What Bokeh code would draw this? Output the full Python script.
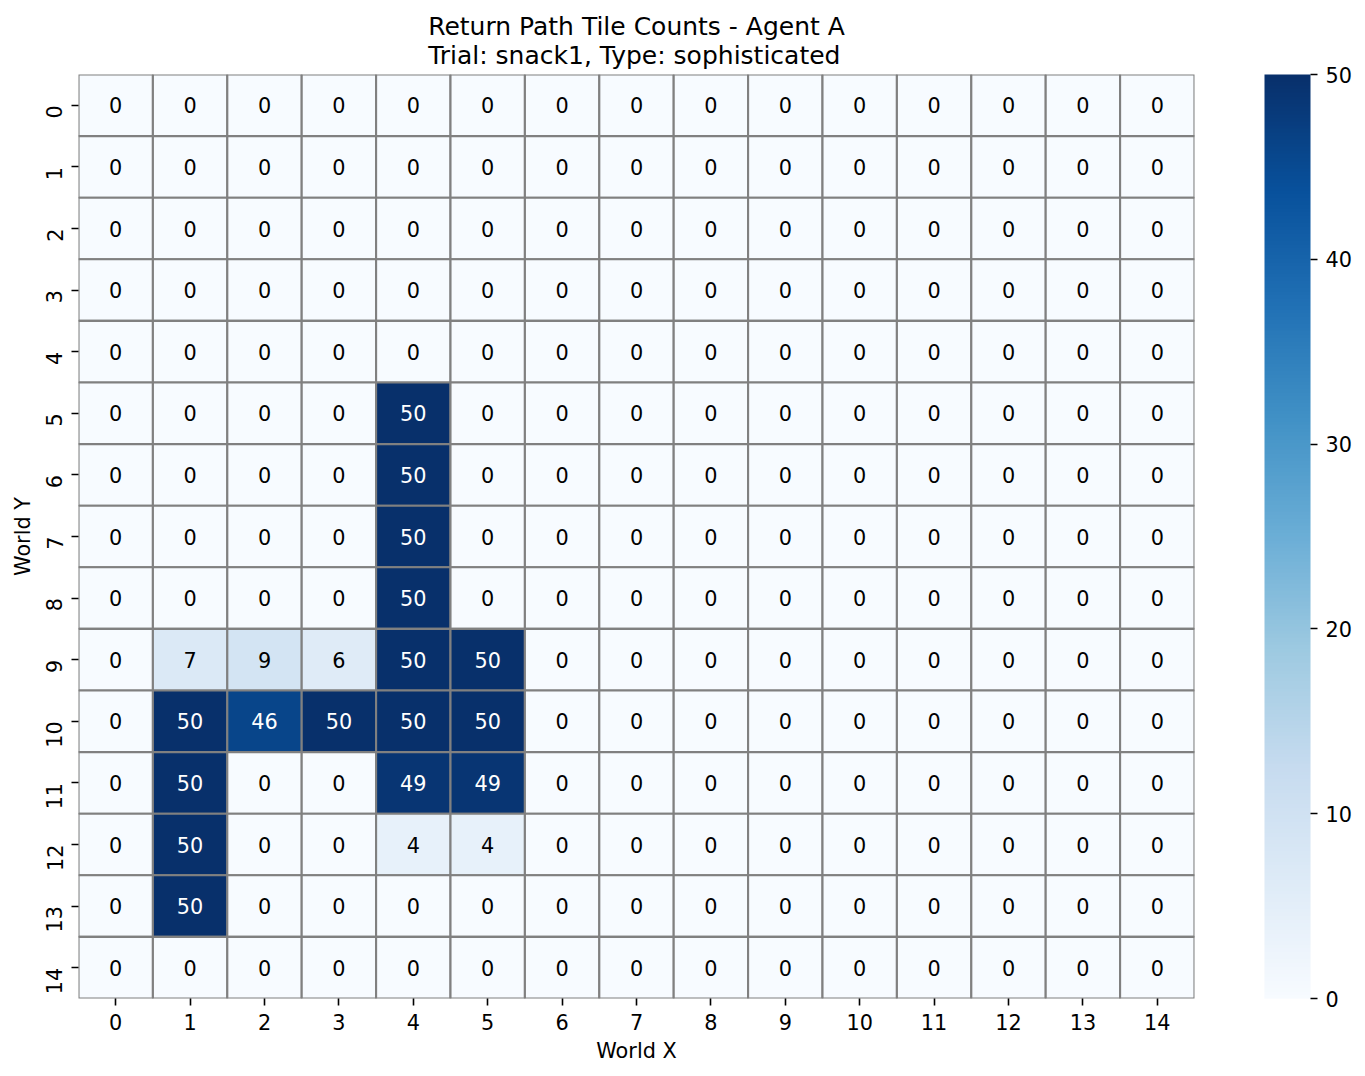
import numpy as np
from bokeh.plotting import figure
from bokeh.models import (ColumnDataSource, LinearColorMapper, ColorBar, FixedTicker)
from bokeh.palettes import Blues256
from bokeh.embed import file_html
from bokeh.resources import INLINE

# ---- data ----
x_labels = list(range(15))
y_labels = list(range(15))
counts = [
    [0]*15,
    [0]*15,
    [0]*15,
    [0]*15,
    [0]*15,
    [0, 0, 0, 0, 50, 0, 0, 0, 0, 0, 0, 0, 0, 0, 0],
    [0, 0, 0, 0, 50, 0, 0, 0, 0, 0, 0, 0, 0, 0, 0],
    [0, 0, 0, 0, 50, 0, 0, 0, 0, 0, 0, 0, 0, 0, 0],
    [0, 0, 0, 0, 50, 0, 0, 0, 0, 0, 0, 0, 0, 0, 0],
    [0, 7, 9, 6, 50, 50, 0, 0, 0, 0, 0, 0, 0, 0, 0],
    [0, 50, 46, 50, 50, 50, 0, 0, 0, 0, 0, 0, 0, 0, 0],
    [0, 50, 0, 0, 49, 49, 0, 0, 0, 0, 0, 0, 0, 0, 0],
    [0, 50, 0, 0, 4, 4, 0, 0, 0, 0, 0, 0, 0, 0, 0],
    [0, 50, 0, 0, 0, 0, 0, 0, 0, 0, 0, 0, 0, 0, 0],
    [0]*15,
]
vmin, vmax = 0, 50
colorbar_ticks = [0, 10, 20, 30, 40, 50]
title_line1 = "Return Path Tile Counts - Agent A"
title_line2 = "Trial: snack1, Type: sophisticated"

# ---- build source ----
palette = list(reversed(Blues256))

def color_for(v):
    idx = int(round((v - vmin) / (vmax - vmin) * 255))
    return palette[max(0, min(255, idx))]

def lum(hexc):
    r, g, b = [int(hexc[i:i+2], 16) / 255 for i in (1, 3, 5)]
    def f(c):
        return c / 12.92 if c <= 0.03928 else ((c + 0.055) / 1.055) ** 2.4
    return 0.2126 * f(r) + 0.7152 * f(g) + 0.0722 * f(b)

xs, ys, vals, cols, tcols, txt = [], [], [], [], [], []
for yi, row in zip(y_labels, counts):
    for xi, v in zip(x_labels, row):
        xs.append(xi); ys.append(yi); vals.append(v)
        c = color_for(v)
        cols.append(c)
        tcols.append("black" if lum(c) > 0.408 else "white")
        txt.append(str(v))

src = ColumnDataSource(dict(x=xs, y=ys, v=vals, c=cols, tc=tcols, t=txt))

FONT = "DejaVu Sans"
FS = "20.8px"

p = figure(width=1365, height=1076, x_range=(-0.5, 14.5), y_range=(14.5, -0.5),
           output_backend="svg", toolbar_location=None,
           min_border_left=78, min_border_right=171, min_border_top=74, min_border_bottom=78)
p.frame_width = 1116
p.frame_height = 924
p.title.text = title_line1 + "\n" + title_line2
p.title.align = "center"
p.title.text_font = FONT
p.title.text_font_size = "25px"
p.title.text_font_style = "normal"
p.title.text_color = "black"
p.title.text_line_height = 1.0
p.title.standoff = 10

p.rect(x="x", y="y", width=1, height=1, source=src, fill_color="c",
       line_color="gray", line_width=2.1)
p.text(x="x", y="y", text="t", source=src, text_color="tc", text_align="center",
       text_baseline="middle", text_font_size=FS, text_font={"value": FONT})

p.grid.visible = False
p.outline_line_color = None
for ax in (p.xaxis, p.yaxis):
    ax.ticker = FixedTicker(ticks=list(range(15)))
    ax.axis_line_color = None
    ax.major_tick_out = 7
    ax.major_tick_in = 0
    ax.minor_tick_line_color = None
    ax.major_tick_line_width = 1.6
    ax.major_tick_line_color = "black"
    ax.major_label_text_font = FONT
    ax.major_label_text_font_size = FS
    ax.major_label_text_color = "black"
    ax.axis_label_text_font = FONT
    ax.axis_label_text_font_size = FS
    ax.axis_label_text_font_style = "normal"
    ax.axis_label_text_color = "black"
p.xaxis.axis_label = "World X"
p.yaxis.axis_label = "World Y"
p.yaxis.major_label_orientation = np.pi / 2
p.xaxis.major_label_standoff = 8
p.yaxis.major_label_standoff = 17
p.xaxis.axis_label_standoff = 6
p.yaxis.axis_label_standoff = 1

mapper = LinearColorMapper(palette=palette, low=vmin, high=vmax)
cb = ColorBar(color_mapper=mapper, width=46, height=924, padding=0, margin=0,
              ticker=FixedTicker(ticks=colorbar_ticks),
              major_tick_out=7, major_tick_in=0, major_tick_line_color="black",
              major_tick_line_width=1.6, minor_tick_line_color=None,
              bar_line_color=None, major_label_text_font=FONT,
              major_label_text_color="black", label_standoff=8,
              major_label_text_font_size=FS, location=(70, 0))
p.add_layout(cb, "right")

open("out.html", "w").write(file_html(p, INLINE))
